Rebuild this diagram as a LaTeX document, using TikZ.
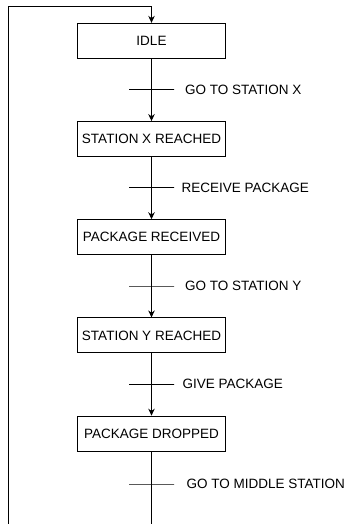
\documentclass[tikz,border=0pt]{standalone}
\usepackage{fontspec}
\setmainfont{Liberation Sans}
\usetikzlibrary{arrows.meta,positioning}

\tikzset{
    state/.style={draw, line width=0.9pt, minimum width=148pt, minimum height=35pt,
        inner sep=0pt, font=\fontsize{13.5}{16}\selectfont},
    bar/.style={draw, line width=0.9pt, minimum width=45pt, minimum height=0pt,
        inner sep=0pt, outer sep=0pt},
    cond/.style={anchor=west, inner sep=0pt, font=\fontsize{13.5}{16}\selectfont},
    flow/.style={line width=0.9pt, -{Stealth[length=7pt,width=6.5pt]}}
}

\begin{document}
\begin{tikzpicture}[x=1pt, y=-1pt]
    \useasboundingbox (0,0) rectangle (349,524);
    \clip (0,0) rectangle (349,524);

    % States
    \node[state] (idle) at (151.5,40.8) {IDLE};
    \node[state] (xreached) at (151.5,139) {STATION X REACHED};
    \node[state] (received) at (151.5,237.2) {PACKAGE RECEIVED};
    \node[state] (yreached) at (151.5,335.4) {STATION Y REACHED};
    \node[state] (dropped) at (151.5,433.6) {PACKAGE DROPPED};

    % Transitions
    \node[bar] (t1) at (151.5,89.5) {};
    \node[bar] (t2) at (151.5,187.7) {};
    \node[bar] (t3) at (151.5,286) {};
    \node[bar] (t4) at (151.5,384.3) {};
    \node[bar] (t5) at (151.5,484) {};

    % Conditions
    \node[cond] (c1) at (185,89.5) {GO TO STATION X};
    \node[cond] (c2) at (181.5,187.7) {RECEIVE PACKAGE};
    \node[cond] (c3) at (185,286) {GO TO STATION Y};
    \node[cond] (c4) at (182.5,384.3) {GIVE PACKAGE};
    \node[cond] (c5) at (186.5,484) {GO TO MIDDLE STATION};

    % Arrows
    \draw[flow] (idle) -- (xreached);
    \draw[flow] (xreached) -- (received);
    \draw[flow] (received) -- (yreached);
    \draw[flow] (yreached) -- (dropped);

    % Back to IDLE
    \coordinate (loopdown) at (151.5,540);
    \coordinate (loopleft) at (8,540);
    \coordinate (looptop) at (8,6);
    \draw[flow] (dropped) -- (loopdown) -- (loopleft) -- (looptop) -| (idle);
\end{tikzpicture}
\end{document}
